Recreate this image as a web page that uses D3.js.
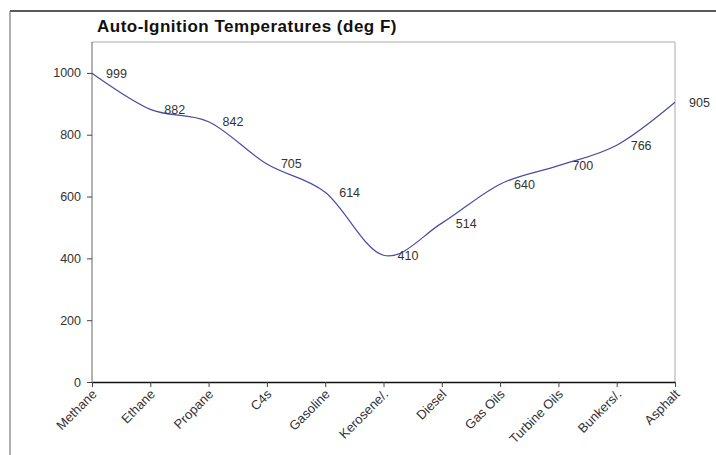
<!DOCTYPE html>
<html>
<head>
<meta charset="utf-8">
<script src="https://cdn.jsdelivr.net/npm/d3@7"></script>
<style>
  body { margin: 0; background: #fff; }
  svg { display: block; font-family: "Liberation Sans", Arial, sans-serif; }
</style>
</head>
<body>
<svg></svg>
<script>
const width = 716;
const height = 455;

// data
const fuels = ["Methane", "Ethane", "Propane", "C4s", "Gasoline", "Kerosene/.",
  "Diesel", "Gas Oils", "Turbine Oils", "Bunkers/.", "Asphalt"];
const tempsF = [999, 882, 842, 705, 614, 410, 514, 640, 700, 766, 905];
const yTicks = [0, 200, 400, 600, 800, 1000];

const svg = d3.select("svg").attr("width", width).attr("height", height);

// outer frame (partly cut off)
svg.append("line").attr("x1", 10).attr("x2", width).attr("y1", 11).attr("y2", 11)
  .attr("stroke", "#222").attr("stroke-width", 1.5);
svg.append("line").attr("x1", 10).attr("x2", 10).attr("y1", 11).attr("y2", height)
  .attr("stroke", "#777").attr("stroke-width", 1.2);

svg.append("text")
  .attr("x", 97).attr("y", 32)
  .attr("font-size", 17).attr("font-weight", "bold")
  .attr("letter-spacing", 0.5)
  .attr("fill", "#111")
  .text("Auto-Ignition Temperatures (deg F)");

const plotL = 92, plotR = 675, plotT = 42, plotB = 382;

const x = d3.scalePoint().domain(fuels).range([plotL, plotR]);
const y = d3.scaleLinear().domain([0, 1100]).range([plotB, plotT]);

// plot area border (top + right)
svg.append("path")
  .attr("d", `M${plotL},${plotT}H${plotR}V${plotB}`)
  .attr("fill", "none").attr("stroke", "#aaa").attr("stroke-width", 1);

// y axis
const yAxis = svg.append("g")
  .attr("transform", `translate(${plotL},0)`)
  .call(d3.axisLeft(y).tickValues(yTicks).tickFormat(d3.format("d"))
    .tickSize(5).tickPadding(6));
yAxis.select(".domain").attr("stroke", "#666").attr("d", `M0,${plotT}V${plotB}`);
yAxis.selectAll(".tick line").attr("stroke", "#444");
yAxis.selectAll("text").attr("font-size", 12.5).attr("fill", "#333")
  .attr("font-family", "Liberation Sans, Arial, sans-serif");

// x axis
const xAxis = svg.append("g")
  .attr("transform", `translate(0,${plotB})`)
  .call(d3.axisBottom(x).tickSize(5).tickSizeOuter(0));
xAxis.select(".domain").attr("stroke", "#111").attr("stroke-width", 1.6);
xAxis.selectAll(".tick line").attr("stroke", "#444");
xAxis.selectAll("text")
  .attr("font-size", 13).attr("fill", "#333")
  .attr("font-family", "Liberation Sans, Arial, sans-serif")
  .attr("text-anchor", "end")
  .attr("dy", 0).attr("y", 0)
  .attr("transform", "translate(5,13) rotate(-45)");

// smoothed line
const pts = fuels.map((f, i) => [x(f), y(tempsF[i])]);
svg.append("path")
  .attr("d", d3.line().curve(d3.curveCatmullRom.alpha(0))(pts))
  .attr("fill", "none")
  .attr("stroke", "#4b4ba3")
  .attr("stroke-width", 1.2);

// value labels
svg.append("g").selectAll("text")
  .data(tempsF)
  .join("text")
  .attr("x", (d, i) => x(fuels[i]) + 14)
  .attr("y", d => y(d))
  .attr("dy", "0.35em")
  .attr("font-size", 12.5)
  .attr("fill", "#333")
  .text(d => d);
</script>
</body>
</html>
